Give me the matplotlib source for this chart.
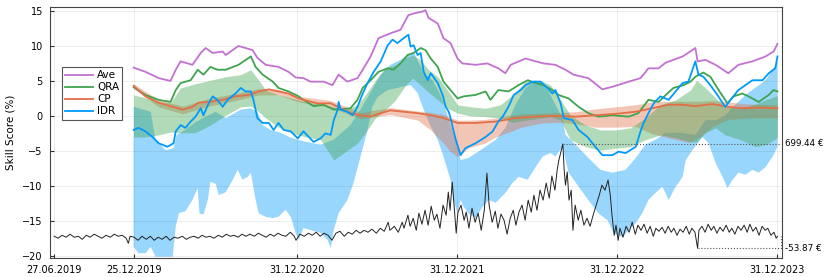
import numpy as np
import pandas as pd
import matplotlib
matplotlib.use("Agg")
from matplotlib import pyplot as plt
import matplotlib.dates as mdates

# day offsets are counted from these dates
skill_start = pd.Timestamp("2019-12-25")
price_start = pd.Timestamp("2019-06-27")

# Ave
ave_day = [0, 27, 57, 84, 96, 107, 134, 153, 164, 180, 203, 210, 239, 271, 282, 301, 330, 353, 369, 387,
           403, 433, 453, 467, 487, 510, 522, 540, 558, 585, 608, 626, 642, 658, 665, 672, 693, 706, 722, 738,
           749, 779, 806, 831, 847, 859, 893, 916, 934, 961, 984, 1002, 1036, 1068, 1093, 1128, 1155, 1173, 1196, 1212,
           1251, 1280, 1285, 1303, 1326, 1355, 1378, 1410, 1440, 1458, 1467]
ave_val = [6.9, 6.3, 5.4, 5.0, 6.6, 7.8, 7.3, 9.0, 9.7, 9.0, 9.2, 8.7, 10.0, 9.4, 8.3, 7.3, 7.0, 6.3, 5.5, 5.4,
           4.9, 4.9, 4.4, 5.9, 4.9, 5.4, 6.6, 8.5, 11.1, 11.8, 12.3, 14.4, 14.7, 14.9, 15.1, 14.0, 13.2, 11.1, 10.4, 8.2,
           7.5, 7.3, 7.5, 6.8, 6.1, 7.3, 8.2, 7.8, 7.5, 7.3, 6.6, 5.9, 5.4, 3.8, 4.2, 4.9, 5.4, 6.8, 6.8, 7.6,
           8.5, 9.7, 7.8, 8.0, 7.3, 6.1, 7.3, 7.8, 8.5, 9.2, 10.3]

# QRA
qra_day = [0, 27, 57, 84, 96, 107, 130, 146, 159, 175, 191, 210, 239, 267, 278, 294, 317, 330, 353, 376,
           387, 410, 433, 456, 478, 494, 510, 522, 540, 558, 579, 592, 608, 624, 638, 654, 665, 677, 693, 706,
           722, 738, 752, 779, 802, 813, 831, 854, 877, 898, 916, 934, 954, 968, 991, 1014, 1036, 1059, 1091, 1128,
           1150, 1173, 1196, 1216, 1230, 1253, 1269, 1280, 1298, 1314, 1333, 1353, 1367, 1387, 1401, 1424, 1447, 1458, 1467]
qra_val = [4.1, 3.0, 2.3, 2.0, 3.7, 4.7, 5.1, 6.6, 5.9, 7.0, 6.6, 6.6, 7.3, 8.5, 7.0, 5.9, 4.9, 4.0, 3.5, 2.8,
           2.3, 1.4, 1.6, 0.9, 1.0, 1.1, 2.3, 4.0, 5.1, 6.3, 6.8, 6.6, 7.5, 8.7, 9.0, 9.7, 9.4, 8.2, 7.0, 4.9,
           3.7, 2.5, 2.8, 3.0, 3.5, 2.3, 3.7, 3.5, 4.4, 5.1, 4.7, 4.4, 3.7, 3.0, 2.5, 1.3, 0.4, -0.1, 0.1, -0.1,
           0.4, 2.3, 2.0, 3.2, 4.0, 4.4, 4.9, 5.6, 6.2, 5.6, 3.7, 1.8, 2.8, 3.2, 2.8, 2.0, 3.0, 3.7, 3.5]
qra_band_day = [0, 27, 57, 84, 107, 141, 175, 210, 244, 267, 285, 301, 330, 358, 392, 426, 456, 483, 510, 528,
                551, 574, 597, 620, 636, 654, 672, 693, 715, 738, 768, 802, 836, 863, 893, 927, 950, 973, 995, 1030,
                1064, 1098, 1132, 1166, 1200, 1235, 1269, 1283, 1303, 1326, 1348, 1383, 1417, 1440, 1467]
qra_hi = [3.0, 2.6, 2.0, 1.9, 4.0, 4.6, 5.1, 5.6, 5.9, 6.6, 5.1, 3.7, 3.0, 2.6, 2.0, 1.7, 1.3, 0.9, 1.6, 3.0,
          5.1, 6.9, 7.3, 8.3, 8.7, 8.0, 6.6, 5.6, 3.7, 1.6, 1.3, 1.1, 1.6, 3.0, 4.9, 5.1, 4.4, 2.3, 0.1, -1.3,
          -2.0, -2.0, -1.7, -0.3, 1.6, 2.3, 3.7, 5.1, 4.0, 2.6, 1.3, 1.1, 1.7, 2.3, 2.9]
qra_lo = [-3.0, -3.0, -2.7, -2.3, -2.4, -2.4, -1.3, 0.1, 1.3, 1.4, 0.6, -0.3, -1.6, -2.4, -3.0, -3.4, -6.3, -5.1, -3.9, -2.4,
          -0.3, 0.9, 2.3, 4.4, 5.4, 4.4, 3.4, 2.3, 1.1, 0.4, 0.0, -0.1, -0.3, -0.9, -0.6, -0.3, -0.1, -0.6, -3.4, -4.4,
          -4.9, -4.6, -4.4, -3.4, -2.7, -3.1, -3.7, -3.7, -2.4, -1.7, -2.7, -3.4, -4.4, -4.1, -3.1]

# CP
cp_day = [0, 27, 57, 89, 112, 134, 148, 171, 203, 232, 262, 285, 308, 330, 353, 376, 387, 419, 449, 472,
          494, 517, 540, 563, 585, 615, 647, 677, 706, 738, 779, 825, 870, 916, 961, 1007, 1052, 1098, 1144, 1189,
          1219, 1251, 1280, 1319, 1355, 1387, 1424, 1467]
cp_val = [4.3, 2.8, 1.9, 1.3, 0.9, 1.3, 1.9, 2.0, 2.3, 2.8, 3.0, 3.5, 3.8, 3.5, 3.2, 2.5, 2.3, 1.8, 1.8, 1.1,
          0.4, 0.1, -0.1, 0.4, 0.8, 0.6, 0.4, 0.1, -0.3, -1.0, -1.0, -0.8, -0.3, -0.1, 0.0, -0.1, 0.1, 0.3, 0.6, 1.2,
          1.6, 1.6, 1.4, 1.7, 1.3, 1.1, 1.2, 1.1]
cp_band_day = [0, 57, 112, 171, 232, 285, 330, 376, 449, 517, 585, 647, 677, 706, 722, 738, 765, 800, 825, 856,
               884, 930, 970, 1007, 1052, 1098, 1144, 1180, 1230, 1265, 1290, 1319, 1355, 1400, 1467]
cp_lo = [3.9, 1.3, 0.3, 1.4, 2.2, 3.0, 3.0, 2.0, 1.2, -0.4, 0.2, -0.6, -2.0, -3.9, -5.1, -5.8, -4.5, -3.9, -3.0, -2.3,
         -1.6, -1.0, -0.9, -1.1, -1.6, -1.6, -1.5, -2.5, -3.3, -3.8, -3.0, -1.5, -0.5, -0.3, -0.3]
cp_hi = [4.6, 2.3, 1.4, 2.5, 3.2, 3.9, 3.8, 2.8, 2.2, 0.5, 1.2, 0.7, 0.5, 0.2, -0.2, -0.6, -0.6, -0.5, -0.3, 0.1,
         0.3, 0.4, 0.5, 0.6, 1.0, 1.3, 1.6, 2.0, 2.1, 2.1, 2.1, 2.2, 2.0, 1.7, 1.6]

# IDR
idr_day = [0, 11, 27, 43, 57, 77, 91, 96, 107, 118, 130, 141, 153, 159, 171, 180, 191, 203, 214, 232,
           244, 255, 267, 273, 282, 294, 308, 319, 330, 342, 358, 374, 387, 399, 410, 426, 437, 449, 456, 465,
           467, 472, 487, 499, 510, 522, 533, 547, 563, 579, 590, 601, 615, 626, 631, 638, 647, 654, 661, 670,
           677, 693, 704, 711, 718, 722, 734, 745, 756, 779, 802, 818, 831, 841, 854, 866, 882, 893, 909, 927,
           943, 954, 961, 973, 980, 1000, 1014, 1034, 1052, 1068, 1091, 1105, 1121, 1144, 1155, 1162, 1173, 1185, 1200, 1219,
           1235, 1251, 1264, 1280, 1287, 1298, 1314, 1330, 1348, 1360, 1378, 1394, 1410, 1433, 1447, 1462, 1467]
idr_val = [-2.0, -1.7, -2.2, -3.0, -3.9, -4.4, -3.9, -2.2, -1.3, -1.7, -0.8, -0.1, 1.1, 0.1, 1.8, 2.8, 2.3, 1.3, 2.3, 3.2,
           4.0, 3.5, 3.5, 2.3, -0.3, -1.0, -1.0, -2.0, -1.0, -2.0, -2.2, -3.2, -2.2, -3.0, -3.7, -3.2, -2.5, -2.7, -0.6, 0.9,
           2.0, 0.9, 0.6, 0.1, 1.3, 3.2, 4.7, 6.3, 7.8, 10.1, 10.9, 10.4, 11.1, 11.6, 9.9, 10.1, 8.7, 9.0, 6.3, 5.1,
           6.1, 4.7, 3.0, 1.3, 0.6, -0.3, -3.4, -5.6, -4.6, -3.9, -3.0, -2.2, -0.8, -0.1, 1.3, 3.0, 3.7, 4.4, 4.9, 4.9,
           4.0, 3.2, 3.7, 1.8, -0.3, -0.6, -2.0, -3.0, -4.4, -5.6, -5.6, -5.1, -5.3, -4.4, -2.2, -1.0, 0.4, 1.8, 2.8, 2.3,
           3.5, 4.7, 4.9, 7.8, 5.9, 5.6, 4.4, 3.0, 1.3, 2.3, 3.7, 4.4, 5.1, 5.1, 6.1, 6.8, 8.5]
idr_hi_day = [0, 39, 50, 73, 91, 98, 118, 141, 164, 187, 210, 244, 267, 282, 294, 312, 335, 358, 392, 426,
              456, 494, 517, 540, 563, 585, 608, 626, 638, 649, 665, 681, 699, 711, 722, 734, 745, 763, 790, 825,
              847, 870, 893, 916, 938, 961, 977, 984, 1007, 1041, 1064, 1091, 1121, 1144, 1166, 1189, 1212, 1246, 1280, 1303,
              1326, 1348, 1371, 1394, 1440, 1467]
idr_hi = [1.3, 0.6, -3.4, -4.9, -4.6, -2.7, -2.0, -0.9, -0.1, 0.6, -0.3, 0.9, 1.1, 0.6, -1.3, -2.0, -2.4, -3.1, -3.7, -4.1,
          -3.4, -1.3, 0.9, 3.4, 5.9, 7.3, 8.0, 8.7, 9.1, 7.7, 5.9, 5.1, 3.0, 0.9, -1.3, -3.4, -6.3, -6.0, -4.9, -3.4,
          -1.7, 1.6, 4.0, 5.1, 4.4, 1.6, -0.3, -2.7, -4.1, -6.3, -7.7, -8.1, -7.7, -6.0, -4.1, -3.4, -2.4, -2.4, -2.7, -0.6,
          -0.6, 0.1, 1.6, 3.0, 5.1, 7.7]
idr_lo_day = [0, 11, 27, 39, 50, 73, 89, 96, 103, 118, 134, 146, 150, 159, 169, 175, 187, 194, 210, 226,
              237, 248, 260, 267, 278, 285, 301, 317, 330, 346, 358, 369, 376, 387, 403, 426, 442, 449, 456, 467,
              487, 501, 517, 533, 544, 556, 579, 608, 631, 647, 661, 677, 693, 706, 722, 729, 738, 745, 752, 763,
              779, 795, 809, 825, 847, 863, 877, 898, 916, 932, 950, 961, 977, 991, 1014, 1036, 1059, 1080, 1093, 1114,
              1128, 1144, 1159, 1173, 1189, 1205, 1219, 1235, 1251, 1258, 1273, 1285, 1296, 1310, 1326, 1342, 1353, 1365, 1378, 1394,
              1410, 1424, 1440, 1456, 1467]
idr_lo = [-18.7, -19.6, -19.6, -18.7, -20.1, -20.1, -20.1, -15.8, -13.9, -13.6, -12.0, -10.3, -13.9, -14.1, -12.0, -9.4, -9.7, -11.3, -10.9, -9.1,
          -7.7, -9.1, -8.7, -8.1, -12.0, -13.9, -14.4, -14.6, -14.4, -13.4, -14.4, -16.7, -17.7, -16.0, -16.3, -16.7, -17.7, -18.9, -16.3, -13.9,
          -12.0, -9.6, -5.8, -2.0, 1.3, 2.7, 3.7, 4.1, 4.4, 3.3, 0.9, -1.5, -3.4, -5.8, -9.1, -12.0, -13.9, -12.0, -13.0, -13.9,
          -14.6, -13.0, -12.0, -12.4, -11.0, -9.6, -8.7, -9.1, -7.3, -5.8, -5.3, -5.8, -4.4, -8.1, -10.1, -12.0, -13.9, -14.9, -16.7, -17.3,
          -16.3, -15.3, -13.9, -12.0, -11.0, -10.1, -12.0, -10.1, -8.7, -6.3, -4.9, -3.9, -3.0, -3.9, -6.7, -8.7, -10.3, -9.1, -8.1, -8.4,
          -7.7, -8.1, -7.3, -5.8, -4.4]

# daily electricity price (EUR)
price_day = [0, 9, 18, 27, 36, 46, 55, 64, 73, 82, 91, 100, 109, 118, 128, 137, 146, 155, 164, 169,
             173, 182, 191, 200, 210, 219, 228, 237, 246, 255, 264, 273, 282, 292, 301, 310, 319, 328, 337, 346,
             355, 364, 374, 383, 392, 401, 410, 419, 428, 437, 446, 456, 465, 474, 483, 492, 501, 510, 519, 528,
             538, 547, 551, 560, 570, 579, 588, 597, 606, 615, 624, 633, 642, 651, 661, 670, 679, 688, 697, 706,
             715, 724, 734, 743, 752, 761, 765, 775, 784, 793, 797, 806, 811, 818, 825, 831, 838, 845, 852, 859,
             866, 872, 879, 886, 893, 898, 902, 907, 911, 916, 920, 927, 934, 939, 945, 952, 959, 966, 973, 980,
             986, 991, 998, 1005, 1011, 1018, 1025, 1032, 1039, 1046, 1052, 1059, 1066, 1073, 1080, 1087, 1093, 1100, 1107, 1114,
             1121, 1128, 1134, 1141, 1146, 1150, 1159, 1162, 1165, 1169, 1173, 1178, 1182, 1187, 1194, 1200, 1207, 1214, 1221, 1228,
             1235, 1242, 1248, 1255, 1262, 1267, 1271, 1276, 1280, 1285, 1289, 1296, 1303, 1310, 1317, 1324, 1330, 1337, 1344, 1351,
             1358, 1365, 1371, 1378, 1385, 1392, 1399, 1406, 1412, 1419, 1426, 1433, 1440, 1447, 1453, 1460, 1466, 1469, 1476, 1483,
             1490, 1497, 1503, 1510, 1517, 1524, 1531, 1538, 1544, 1551, 1558, 1565, 1572, 1579, 1585, 1592, 1599, 1606, 1613, 1620,
             1626, 1633, 1640, 1645, 1648]
price_eur = [33, 19, 40, 26, 48, 26, 33, 11, 40, 26, 48, 33, 19, 40, 26, 48, 33, 40, 19, -18,
             33, 26, 4, 33, 11, 33, 4, 26, 11, 33, 4, 26, 19, 33, 11, 26, 33, 19, 40, 26,
             33, 19, 40, 26, 48, 33, 40, 26, 48, 33, 48, 33, 55, 40, 26, 48, 33, 55, 40, 33,
             62, 33, 4, 48, 33, 55, 40, 62, 33, 55, 40, 4, 55, 69, 33, 62, 48, 76, 55, 76,
             62, 84, 55, 91, 69, 134, 76, 105, 62, 134, 91, 185, 105, 163, 76, 200, 120, 221, 113, 250,
             149, 192, 91, 258, 185, 352, 221, 424, 258, 55, 207, 258, 149, 207, 91, 236, 134, 200, 76, 221,
             489, 258, 134, 214, 91, 193, 149, 48, 163, 221, 113, 207, 258, 149, 294, 207, 330, 221, 366, 294,
             417, 308, 468, 366, 511, 584, 699.44, 511, 402, 497, 294, 366, 76, 258, 149, 221, 113, 163, 105, 185,
             258, 330, 402, 366, 439, 330, 185, 40, 113, 4, 91, 26, 105, 62, 134, 48, 113, 76, 120, 55,
             105, 33, 91, 69, 98, 55, 105, 62, 91, 40, 84, 62, 105, 48, 91, 62, -53.87, 76, 105, 62,
             120, 76, 105, 55, 98, 69, 113, 62, 91, 48, 105, 76, 113, 62, 120, 69, 98, 40, 105, 76,
             91, 40, 62, 19, 33]

tick_dates = ["2019-06-27", "2019-12-25", "2020-12-31", "2021-12-31", "2022-12-31", "2023-12-31"]
tick_labels = ["27.06.2019", "25.12.2019", "31.12.2020", "31.12.2021", "31.12.2022", "31.12.2023"]


def dnum(start, days):
    return mdates.date2num((start + pd.to_timedelta(np.asarray(days), unit="D")).to_pydatetime())


c_ave, c_qra, c_cp, c_idr = "#C371D2", "#3EA44E", "#E36F47", "#009AFA"

fig = plt.figure(figsize=(8.3, 2.77), dpi=100)
ax = fig.add_axes([0.060, 0.067, 0.882, 0.908])

# ribbons
xb = np.concatenate([dnum(skill_start, idr_hi_day), dnum(skill_start, idr_lo_day)[::-1]])
yb = np.concatenate([idr_hi, idr_lo[::-1]])
ax.fill(xb, yb, color=c_idr, alpha=0.4, lw=0, zorder=1)
ax.fill_between(dnum(skill_start, cp_band_day), cp_lo, cp_hi, color=c_cp, alpha=0.4, lw=0, zorder=2)
ax.fill_between(dnum(skill_start, qra_band_day), qra_lo, qra_hi, color=c_qra, alpha=0.4, lw=0, zorder=3)

# lines
lw = 1.3
h_ave, = ax.plot(dnum(skill_start, ave_day), ave_val, color=c_ave, lw=lw, zorder=4, label="Ave")
h_qra, = ax.plot(dnum(skill_start, qra_day), qra_val, color=c_qra, lw=lw, zorder=5, label="QRA")
h_cp, = ax.plot(dnum(skill_start, cp_day), cp_val, color=c_cp, lw=lw, zorder=6, label="CP")
h_idr, = ax.plot(dnum(skill_start, idr_day), idr_val, color=c_idr, lw=lw, zorder=7, label="IDR")

# price, scaled into the bottom part of the skill axis
price = np.array(price_eur, dtype=float)
p_lo, p_hi = price.min(), price.max()
s_lo, s_hi = -18.9, -4.0
price_s = s_lo + (price - p_lo) / (p_hi - p_lo) * (s_hi - s_lo)
px = dnum(price_start, price_day)
ax.plot(px, price_s, color="#222222", lw=0.7, zorder=8)

x_end = px[-1] + 8
i_max, i_min = price.argmax(), price.argmin()
ax.plot([px[i_max], x_end], [s_hi, s_hi], ls=":", color="#555555", lw=0.8, zorder=8)
ax.plot([px[i_min], x_end, x_end], [s_lo, s_lo, price_s[-1]], ls=":", color="#555555", lw=0.8, zorder=8)
ax.annotate(f"{p_hi:.2f} €", xy=(1.0, s_hi), xycoords=("axes fraction", "data"),
            xytext=(2, 0), textcoords="offset points", va="center", ha="left", fontsize=6.3)
ax.annotate(f"{p_lo:.2f} €", xy=(1.0, s_lo), xycoords=("axes fraction", "data"),
            xytext=(2, 0), textcoords="offset points", va="center", ha="left", fontsize=6.3)

# axes
x0 = mdates.date2num(pd.Timestamp("2019-06-17").to_pydatetime())
x1 = mdates.date2num(pd.Timestamp("2024-01-10").to_pydatetime())
ax.set_xlim(x0, x1)
ax.set_ylim(-20.35, 15.57)
ax.set_yticks([-20, -15, -10, -5, 0, 5, 10, 15])
ax.set_xticks([mdates.date2num(pd.Timestamp(d).to_pydatetime()) for d in tick_dates])
ax.set_xticklabels(tick_labels)
ax.tick_params(direction="in", length=3, labelsize=7, color="#333333", pad=5)
ax.grid(True, color="black", alpha=0.08, lw=0.6)
for s in ax.spines.values():
    s.set_color("#444444")
    s.set_linewidth(0.8)
ax.set_ylabel("Skill Score (%)", fontsize=7.5, labelpad=5)

leg = ax.legend(handles=[h_ave, h_qra, h_cp, h_idr], loc="upper left", bbox_to_anchor=(0.016, 0.761),
                fontsize=7.5, fancybox=False, framealpha=1, edgecolor="#555555",
                handlelength=2.7, handletextpad=0.4, borderpad=0.3, labelspacing=0.2, borderaxespad=0)
leg.get_frame().set_linewidth(0.8)

fig.savefig("out.png", dpi=100)
